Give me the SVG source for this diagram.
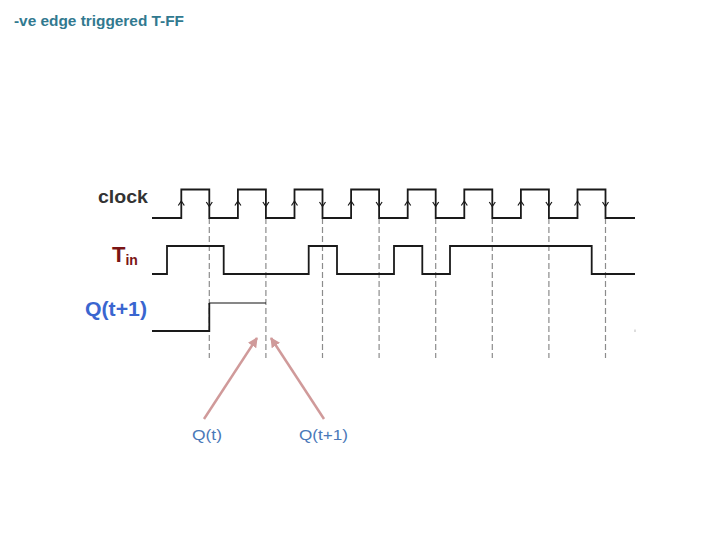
<svg xmlns="http://www.w3.org/2000/svg" width="720" height="540" viewBox="0 0 720 540">
<defs>
<style>
.wave{fill:none;stroke:#1a1a1a;stroke-width:1.8}
.thin{fill:none;stroke:#111;stroke-width:1.2}
.dash{stroke:#8c8c8c;stroke-width:1.2;stroke-dasharray:6 3}
.car{fill:none;stroke:#1a1a1a;stroke-width:1.2}
.pink{stroke:#d09a9a;stroke-width:2.5;fill:none}
.lbl{font-family:"Liberation Sans",Arial,sans-serif;font-weight:bold}
.small{font-family:"Liberation Sans",Arial,sans-serif;font-size:15px;fill:#4a78b8}
</style>
<marker id="ah" viewBox="0 0 10 10" refX="9" refY="5" markerWidth="4" markerHeight="4" orient="auto">
<path d="M0,0 L10,5 L0,10 z" fill="#d09a9a"/>
</marker>
</defs>
<rect width="720" height="540" fill="#fff"/>
<text x="14" y="26" class="lbl" font-size="15" fill="#31798f" textLength="170" lengthAdjust="spacingAndGlyphs">-ve edge triggered T-FF</text>

<g id="labels">
<text x="98" y="203" class="lbl" font-size="19" fill="#333" textLength="50" lengthAdjust="spacingAndGlyphs">clock</text>
<text x="112" y="262" class="lbl" font-size="22" fill="#7a1414">T<tspan font-size="14" dy="3">in</tspan></text>
<text x="85" y="316" class="lbl" font-size="20" fill="#3a66d0" textLength="62" lengthAdjust="spacingAndGlyphs">Q(t+1)</text>
</g>

<g id="dashes">
<line class="dash" x1="209.3" y1="218" x2="209.3" y2="358"/>
<line class="dash" x1="265.9" y1="218" x2="265.9" y2="358"/>
<line class="dash" x1="322.5" y1="218" x2="322.5" y2="358"/>
<line class="dash" x1="379.1" y1="218" x2="379.1" y2="358"/>
<line class="dash" x1="435.7" y1="218" x2="435.7" y2="358"/>
<line class="dash" x1="492.3" y1="218" x2="492.3" y2="358"/>
<line class="dash" x1="548.9" y1="218" x2="548.9" y2="358"/>
<line class="dash" x1="605.5" y1="218" x2="605.5" y2="358"/>
</g>

<g id="clock">
<path class="wave" d="M152,218 H181.3 V189.5 H209.3 V218 H237.9 V189.5 H265.9 V218 H294.5 V189.5 H322.5 V218 H351.1 V189.5 H379.1 V218 H407.7 V189.5 H435.7 V218 H464.3 V189.5 H492.3 V218 H520.9 V189.5 H548.9 V218 H577.5 V189.5 H605.5 V218 H635"/>
<path class="car" d="M178.3,205.5 L181.3,201 L184.3,205.5 M234.9,205.5 L237.9,201 L240.9,205.5 M291.5,205.5 L294.5,201 L297.5,205.5 M348.1,205.5 L351.1,201 L354.1,205.5 M404.7,205.5 L407.7,201 L410.7,205.5 M461.3,205.5 L464.3,201 L467.3,205.5 M517.9,205.5 L520.9,201 L523.9,205.5 M574.5,205.5 L577.5,201 L580.5,205.5"/>
<path class="car" d="M206.3,202 L209.3,206.5 L212.3,202 M262.9,202 L265.9,206.5 L268.9,202 M319.5,202 L322.5,206.5 L325.5,202 M376.1,202 L379.1,206.5 L382.1,202 M432.7,202 L435.7,206.5 L438.7,202 M489.3,202 L492.3,206.5 L495.3,202 M545.9,202 L548.9,206.5 L551.9,202 M602.5,202 L605.5,206.5 L608.5,202"/>
</g>

<g id="tin">
<path class="wave" d="M152,274 H167 V246 H223.7 V274 H308.7 V246 H337 V274 H394 V246 H422.3 V274 H450 V246 H591.7 V274 H635"/>
</g>

<g id="q">
<path class="wave" d="M152,331 H209.3 V303"/>
<path class="thin" d="M209.3,303 H266"/>
<line x1="635" y1="329.5" x2="635" y2="332" stroke="#bbb" stroke-width="1"/>
</g>

<g id="connectors">
<line class="pink" x1="204" y1="419" x2="257" y2="338" marker-end="url(#ah)"/>
<line class="pink" x1="324" y1="419" x2="271" y2="338" marker-end="url(#ah)"/>
</g>

<g id="qlabels">
<text x="192" y="440" class="small" textLength="30" lengthAdjust="spacingAndGlyphs">Q(t)</text>
<text x="299" y="440" class="small" textLength="49" lengthAdjust="spacingAndGlyphs">Q(t+1)</text>
</g>
</svg>
